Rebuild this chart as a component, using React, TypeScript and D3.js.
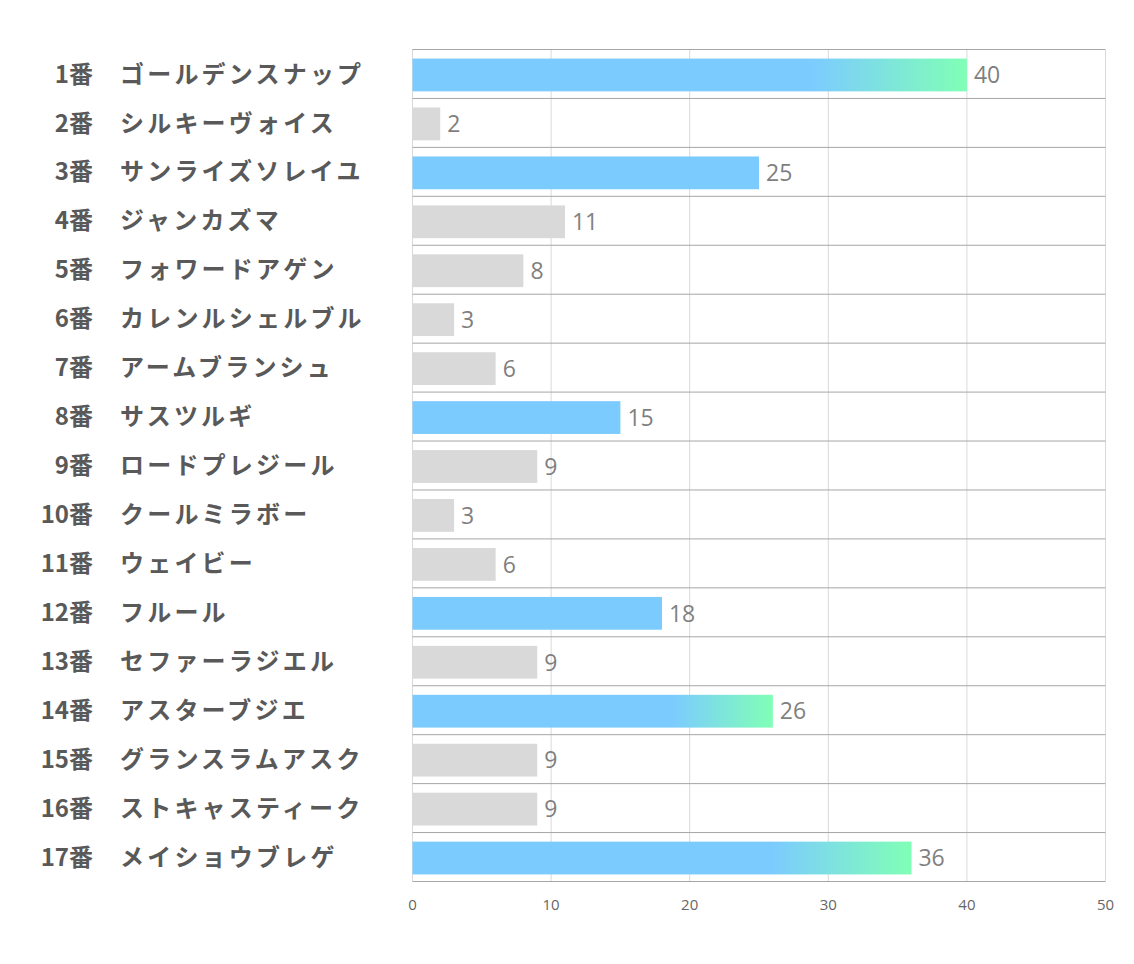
import React from "react";
import * as d3 from "d3";

const numbers = ["1番","2番","3番","4番","5番","6番","7番","8番","9番","10番","11番","12番","13番","14番","15番","16番","17番"];
const names = ["ゴールデンスナップ","シルキーヴォイス","サンライズソレイユ","ジャンカズマ","フォワードアゲン","カレンルシェルブル","アームブランシュ","サスツルギ","ロードプレジール","クールミラボー","ウェイビー","フルール","セファーラジエル","アスターブジエ","グランスラムアスク","ストキャスティーク","メイショウブレゲ"];
const values = [40,2,25,11,8,3,6,15,9,3,6,18,9,26,9,9,36];
const tiers = ["top","low","mid","low","low","low","low","mid","low","low","low","mid","low","top","low","low","top"];
const ticks = [0,10,20,30,40,50];

export default function App() {
  const W = 1134, H = 964;
  const left = 412.5, right = 1105.5, top = 49.5, bottom = 881.5;
  const x = d3.scaleLinear().domain([0, 50]).range([left, right]);
  const y = d3.scaleBand<number>().domain(d3.range(values.length)).range([top + 1, bottom + 1]).paddingInner(0.33).paddingOuter(0.165);
  const rowH = (bottom - top) / values.length;
  const font = "'Noto Sans CJK JP', 'Noto Sans', sans-serif";
  const numFont = "'Open Sans', 'Noto Sans', sans-serif";
  return (
    <svg width={W} height={H} style={{ position: "absolute", left: 0, top: 0, background: "#fff" }}>
      <defs>
        <linearGradient id="g" x1="0" x2="1" y1="0" y2="0">
          <stop offset="0.72" stopColor="#7CCBFF" />
          <stop offset="1" stopColor="#80FFB6" />
        </linearGradient>
      </defs>
      {ticks.map((t) => (
        <line key={"v" + t} x1={x(t)} x2={x(t)} y1={top} y2={bottom} stroke="#D9D9D9" strokeWidth={1} />
      ))}
      {d3.range(values.length + 1).map((i) => (
        <line key={"h" + i} x1={left} x2={right} y1={top + i * rowH} y2={top + i * rowH} stroke="#A6A6A6" strokeWidth={1} />
      ))}
      {values.map((v, i) => (
        <g key={"b" + i}>
          <rect x={x(0)} y={y(i)} width={x(v) - x(0)} height={y.bandwidth()}
            fill={tiers[i] === "top" ? "url(#g)" : tiers[i] === "mid" ? "#7CCBFF" : "#D9D9D9"} />
          <text x={x(v) + 7} y={y(i)! + y.bandwidth() / 2} dy="0.36em" fontSize={23} fill="#7F7F7F" fontFamily={numFont}>{v}</text>
        </g>
      ))}
      {values.map((v, i) => (
        <g key={"l" + i} fontFamily={font} fontWeight={700} fill="#595959" fontSize={24}>
          <text x={93} y={top + (i + 0.5) * rowH} dy="0.36em" textAnchor="end">{numbers[i]}</text>
          <text x={120} y={top + (i + 0.5) * rowH} dy="0.36em" letterSpacing={3.2}>{names[i]}</text>
        </g>
      ))}
      {ticks.map((t) => (
        <text key={"t" + t} x={x(t)} y={905} dy="0.36em" textAnchor="middle" fontSize={15} fill="#666666" fontFamily={numFont}>{t}</text>
      ))}
    </svg>
  );
}
